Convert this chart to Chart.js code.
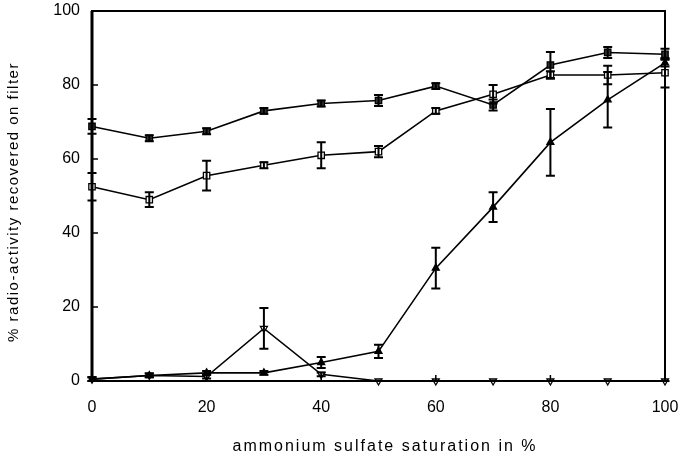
<!DOCTYPE html>
<html>
<head>
<meta charset="utf-8">
<title>Ammonium sulfate precipitation</title>
<script src="https://cdn.jsdelivr.net/npm/chart.js@4.4.1/dist/chart.umd.min.js"></script>
<style>
  html, body { margin: 0; padding: 0; background: #fff; }
  #chart { display: block; }
</style>
</head>
<body>
<canvas id="chart" width="682" height="460"></canvas>
<script>
// ─── Data ────────────────────────────────────────────────────
const saturation = [0, 10, 20, 30, 40, 50, 60, 70, 80, 90, 100];
const xTicks = [0, 20, 40, 60, 80, 100];
const yTicks = [0, 20, 40, 60, 80, 100];
const xTitle = 'ammonium sulfate saturation in %';
const yTitle = '% radio-activity recovered on filter';

// % radio-activity recovered on filter, mean and half error bar
const filledSquares = [68.8, 65.6, 67.5, 73.0, 75.0, 75.8, 79.7, 74.6, 85.4, 88.8, 88.3];
const filledSquaresErr = [2.0, 0.8, 0.8, 0.8, 0.8, 1.5, 0.8, 1.5, 3.5, 1.5, 1.5];

const openSquares = [52.5, 49.0, 55.5, 58.3, 61.0, 62.0, 73.0, 77.5, 82.7, 82.7, 83.3];
const openSquaresErr = [3.7, 2.0, 4.0, 0.8, 3.5, 1.5, 0.8, 2.5, 1.0, 2.5, 4.0];

const filledTriangles = [0.5, 1.5, 2.2, 2.2, 5.0, 8.0, 30.5, 47.0, 64.5, 76.0, 86.0];
const filledTrianglesErr = [0.5, 0.5, 0.5, 0.5, 1.5, 1.8, 5.5, 4.0, 9.0, 7.5, 1.0];

const openTriangles = [0.5, 1.5, 1.2, 14.2, 1.8, 0, 0, 0, 0, 0, 0];
const openTrianglesErr = [0.5, 0.5, 0.5, 5.5, 0.5, 0, 0, 0, 0, 0, 0];

const points = vals => saturation.map((x, i) => ({ x, y: vals[i] }));

// ─── Plugins ─────────────────────────────────────────────────
// vertical error bars with caps, from each dataset's `errors` array
const errorBars = {
  id: 'errorBars',
  afterDatasetsDraw(chart) {
    const { ctx, scales: { x, y } } = chart;
    ctx.save();
    ctx.strokeStyle = '#000';
    ctx.lineWidth = 2;
    chart.data.datasets.forEach(ds => {
      if (!ds.errors) return;
      ds.data.forEach((p, i) => {
        const e = ds.errors[i];
        const px = x.getPixelForValue(p.x);
        const top = y.getPixelForValue(Math.min(100, p.y + e));
        const bot = y.getPixelForValue(Math.max(0, p.y - e));
        ctx.beginPath();
        ctx.moveTo(px, top); ctx.lineTo(px, bot);
        ctx.moveTo(px - 4.5, top); ctx.lineTo(px + 4.5, top);
        ctx.moveTo(px - 4.5, bot); ctx.lineTo(px + 4.5, bot);
        ctx.stroke();
      });
    });
    ctx.restore();
  }
};

// box around the plot, inward tick marks and the spaced-out axis titles
const frame = {
  id: 'frame',
  afterDraw(chart) {
    const { ctx, chartArea: a, scales: { x, y } } = chart;
    ctx.save();
    ctx.strokeStyle = '#000';
    ctx.lineWidth = 2;
    ctx.strokeRect(a.left, a.top, a.right - a.left, a.bottom - a.top);
    ctx.lineWidth = 3;
    ctx.beginPath();
    ctx.moveTo(a.left, a.top); ctx.lineTo(a.left, a.bottom);
    ctx.stroke();
    ctx.lineWidth = 1.5;
    ctx.beginPath();
    yTicks.forEach(v => {
      const py = y.getPixelForValue(v);
      ctx.moveTo(a.left, py); ctx.lineTo(a.left + 6, py);
    });
    xTicks.forEach(v => {
      const px = x.getPixelForValue(v);
      ctx.moveTo(px, a.bottom); ctx.lineTo(px, a.bottom - 6);
    });
    ctx.stroke();

    ctx.fillStyle = '#000';
    ctx.textAlign = 'center';
    ctx.textBaseline = 'middle';
    ctx.font = '16px "Liberation Sans"';
    ctx.letterSpacing = '2px';
    ctx.fillText(xTitle, 385, 447);
    ctx.font = '15px "Liberation Sans"';
    ctx.letterSpacing = '1.5px';
    ctx.translate(14, 202);
    ctx.rotate(-Math.PI / 2);
    ctx.fillText(yTitle, 0, 0);
    ctx.restore();
  }
};

// ─── Chart ───────────────────────────────────────────────────
const lineStyle = {
  borderColor: '#000',
  borderWidth: 1.6,
  pointBorderColor: '#000',
  pointBorderWidth: 1.3,
  tension: 0,
  clip: false
};

new Chart(document.getElementById('chart'), {
  type: 'line',
  data: {
    datasets: [
      { ...lineStyle, data: points(filledSquares), errors: filledSquaresErr,
        pointStyle: 'rect', pointRadius: 4.5, pointBackgroundColor: '#333' },
      { ...lineStyle, data: points(openSquares), errors: openSquaresErr,
        pointStyle: 'rect', pointRadius: 4.5, pointBackgroundColor: '#fff' },
      { ...lineStyle, data: points(filledTriangles), errors: filledTrianglesErr,
        pointStyle: 'triangle', pointRadius: 4, pointBackgroundColor: '#000' },
      { ...lineStyle, data: points(openTriangles), errors: openTrianglesErr,
        pointStyle: 'triangle', pointRotation: 180, pointRadius: 4, pointBackgroundColor: '#fff' }
    ]
  },
  options: {
    responsive: false,
    devicePixelRatio: 1,
    animation: false,
    events: [],
    layout: { padding: { top: 11, right: 17, left: 0, bottom: 0 } },
    plugins: { legend: { display: false }, tooltip: { enabled: false } },
    scales: {
      x: {
        type: 'linear',
        min: 0, max: 100,
        afterFit: s => { s.height = 79; s.paddingLeft = 0; s.paddingRight = 0; },
        afterBuildTicks: s => { s.ticks = xTicks.map(v => ({ value: v })); },
        grid: { display: false, drawTicks: false },
        border: { display: false },
        ticks: { color: '#000', padding: 17, maxRotation: 0,
                 font: { family: 'Liberation Sans', size: 16 } }
      },
      y: {
        min: 0, max: 100,
        afterFit: s => { s.width = 92; s.paddingTop = 0; s.paddingBottom = 0; },
        afterBuildTicks: s => { s.ticks = yTicks.map(v => ({ value: v })); },
        grid: { display: false, drawTicks: false },
        border: { display: false },
        ticks: { color: '#000', padding: 12,
                 font: { family: 'Liberation Sans', size: 16 } }
      }
    }
  },
  plugins: [errorBars, frame]
});
</script>
</body>
</html>
